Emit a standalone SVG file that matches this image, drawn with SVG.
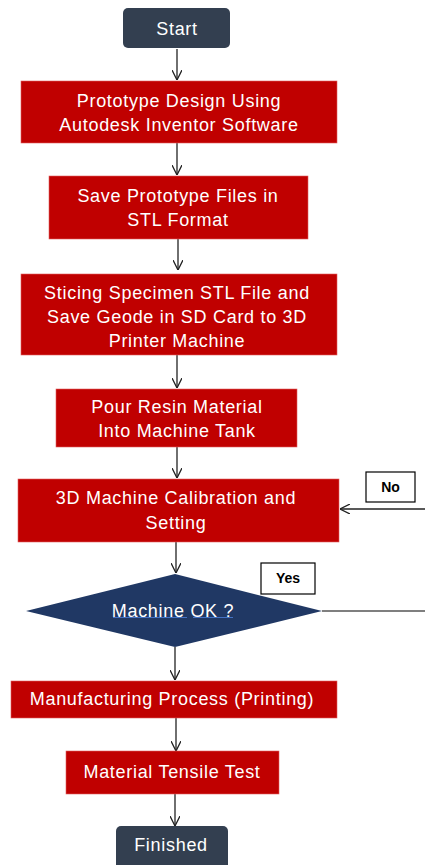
<svg xmlns="http://www.w3.org/2000/svg" width="425" height="865" viewBox="0 0 425 865">
<style>
.term{fill:#333F50;}
.proc{fill:#C00000;stroke:#E06060;stroke-width:0.6;}
.dec{fill:#203864;}
.t{font-family:"Liberation Sans",Arial,sans-serif;font-size:18px;letter-spacing:0.7px;fill:#FFFFFF;text-anchor:middle;}
.lbl{fill:#FFFFFF;stroke:#000000;stroke-width:1.2;}
.lt{font-family:"Liberation Sans",Arial,sans-serif;font-size:14px;font-weight:bold;fill:#000000;text-anchor:middle;}
.c{stroke:#222222;stroke-width:1.3;fill:none;}
</style>
<defs>
<marker id="ah" viewBox="0 0 10 10" refX="10" refY="5" markerWidth="10" markerHeight="10" markerUnits="userSpaceOnUse" orient="auto">
<polyline points="0,0 10,5 0,10" fill="none" stroke="#222222" stroke-width="1.3"/>
</marker>
</defs>
<g id="connectors">
<line class="c" x1="177" y1="49" x2="177" y2="80" marker-end="url(#ah)"/>
<line class="c" x1="177" y1="143" x2="177" y2="175" marker-end="url(#ah)"/>
<line class="c" x1="178" y1="239" x2="178" y2="270" marker-end="url(#ah)"/>
<line class="c" x1="177" y1="355" x2="177" y2="388" marker-end="url(#ah)"/>
<line class="c" x1="177" y1="447" x2="177" y2="478" marker-end="url(#ah)"/>
<line class="c" x1="425" y1="509" x2="340" y2="509" marker-end="url(#ah)"/>
<line class="c" x1="176" y1="542" x2="176" y2="573" marker-end="url(#ah)"/>
<line x1="322" y1="611" x2="425" y2="611" stroke="#555555" stroke-width="1.3"/>
<line class="c" x1="175" y1="647" x2="175" y2="680" marker-end="url(#ah)"/>
<line class="c" x1="176" y1="718" x2="176" y2="751" marker-end="url(#ah)"/>
<line class="c" x1="175" y1="794" x2="175" y2="826" marker-end="url(#ah)"/>
</g>
<g id="start">
<rect class="term" x="123" y="8" width="107" height="40" rx="5"/>
<text class="t" x="177" y="35">Start</text>
</g>
<g id="design">
<rect class="proc" x="21" y="81" width="316" height="62"/>
<text class="t" x="179" y="107">Prototype Design Using</text>
<text class="t" x="179" y="131">Autodesk Inventor Software</text>
</g>
<g id="save">
<rect class="proc" x="49" y="176" width="259" height="63"/>
<text class="t" x="178" y="202">Save Prototype Files in</text>
<text class="t" x="178" y="226">STL Format</text>
</g>
<g id="slicing">
<rect class="proc" x="21" y="274" width="316" height="81"/>
<text class="t" x="177" y="299">Sticing Specimen STL File and</text>
<text class="t" x="177" y="323">Save Geode in SD Card to 3D</text>
<text class="t" x="177" y="347">Printer Machine</text>
</g>
<g id="resin">
<rect class="proc" x="56" y="389" width="241" height="58"/>
<text class="t" x="177" y="413">Pour Resin Material</text>
<text class="t" x="177" y="437">Into Machine Tank</text>
</g>
<g id="calibration">
<rect class="proc" x="18" y="479" width="321" height="63"/>
<text class="t" x="176" y="504">3D Machine Calibration and</text>
<text class="t" x="176" y="529">Setting</text>
</g>
<g id="no-label">
<rect class="lbl" x="366" y="472" width="49" height="30"/>
<text class="lt" x="390.5" y="492">No</text>
</g>
<g id="decision">
<polygon class="dec" points="175,574 322,611 175,647 26,611"/>
<text class="t" x="173" y="617">Machine OK ?</text>
<line x1="113" y1="617.5" x2="187" y2="617.5" stroke="#4472C4" stroke-width="1"/>
<line x1="193" y1="617.5" x2="233" y2="617.5" stroke="#4472C4" stroke-width="1"/>
</g>
<g id="yes-label">
<rect class="lbl" x="261" y="563" width="54" height="31"/>
<text class="lt" x="288" y="583">Yes</text>
</g>
<g id="manufacturing">
<rect class="proc" x="11" y="681" width="326" height="37"/>
<text class="t" x="172" y="705">Manufacturing Process (Printing)</text>
</g>
<g id="tensile">
<rect class="proc" x="66" y="751" width="213" height="43"/>
<text class="t" x="172" y="778">Material Tensile Test</text>
</g>
<g id="finished">
<rect class="term" x="116" y="826" width="112" height="45" rx="5"/>
<text class="t" x="171" y="851">Finished</text>
</g>
</svg>
